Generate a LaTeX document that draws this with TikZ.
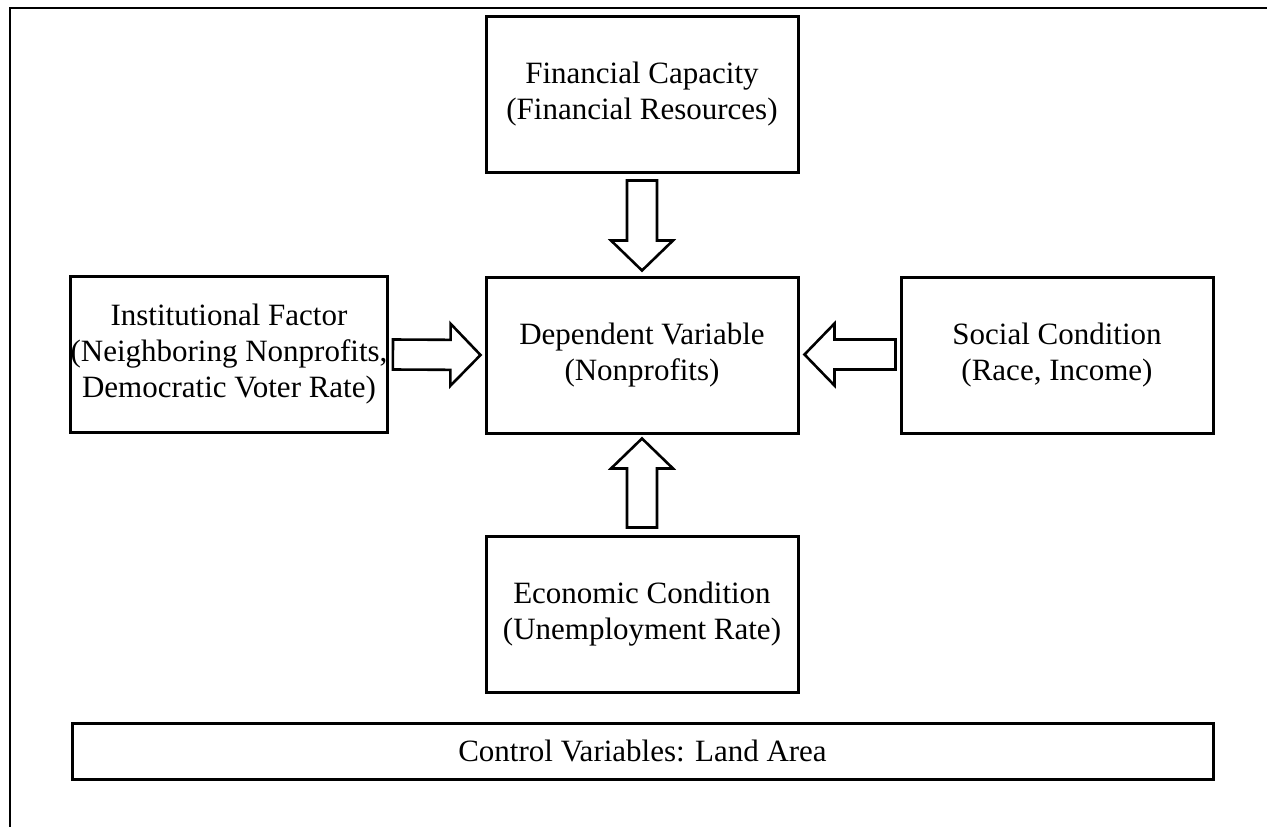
\documentclass[tikz,border=0pt]{standalone}
\usepackage{fontspec}
\setmainfont{Liberation Serif}
\usetikzlibrary{calc}
\tikzset{
  box/.style={draw=black, line width=3pt, fill=white, minimum width=312pt, minimum height=156pt,
    align=center, inner sep=0pt, font=\fontsize{31}{36}\selectfont},
  barrow/.style={draw=black, line width=2.6pt, fill=white, line join=miter},
  frameline/.style={draw=black, line width=2pt}
}
\newcommand{\blkarrow}[2]{%
  \draw[barrow] let \p1=(#1), \p2=(#2),
    \n1={atan2(\y2-\y1,\x2-\x1)}, \n2={veclen(\x2-\x1,\y2-\y1)} in
    [shift={(\p1)}, rotate=\n1]
    (0pt,15pt) -- ({\n2*1pt-30pt},15pt) -- ({\n2*1pt-30pt},31pt) -- ({\n2*1pt},0pt)
    -- ({\n2*1pt-30pt},-31pt) -- ({\n2*1pt-30pt},-15pt) -- (0pt,-15pt) -- cycle;}
\begin{document}
\begin{tikzpicture}[x=1pt,y=-1pt]
\useasboundingbox (0,0) rectangle (1267,827);
\draw[frameline] (1267,7.5) coordinate (fr) -- (9.5,7.5) -- (9.5,827) coordinate (fb);

\node[box] (fin) at (642,94) {Financial Capacity\\(Financial Resources)};
\node[box] (dep) at (642,355) {Dependent Variable\\(Nonprofits)};
\node[box] (inst) at (229,354) {Institutional Factor\\(Neighboring Nonprofits,\\Democratic Voter Rate)};
\node[box] (soc) at (1057,355) {Social Condition\\(Race, Income)};
\node[box] (econ) at (642,614) {Economic Condition\\(Unemployment Rate)};
\node[box, minimum width=1141pt, minimum height=56pt] (ctrl) at (642.5,751) {Control Variables: Land Area};

\blkarrow{$(fin.south)+(0,7)$}{$(dep.north)+(0,-5)$}
\blkarrow{$(econ.north)+(0,-7)$}{$(dep.south)+(0,4)$}
\blkarrow{$(inst.east)+(4,0.5)$}{$(dep.west)+(-4,0)$}
\blkarrow{$(soc.west)+(-4,-0.5)$}{$(dep.east)+(5,-0.5)$}
\end{tikzpicture}
\end{document}
